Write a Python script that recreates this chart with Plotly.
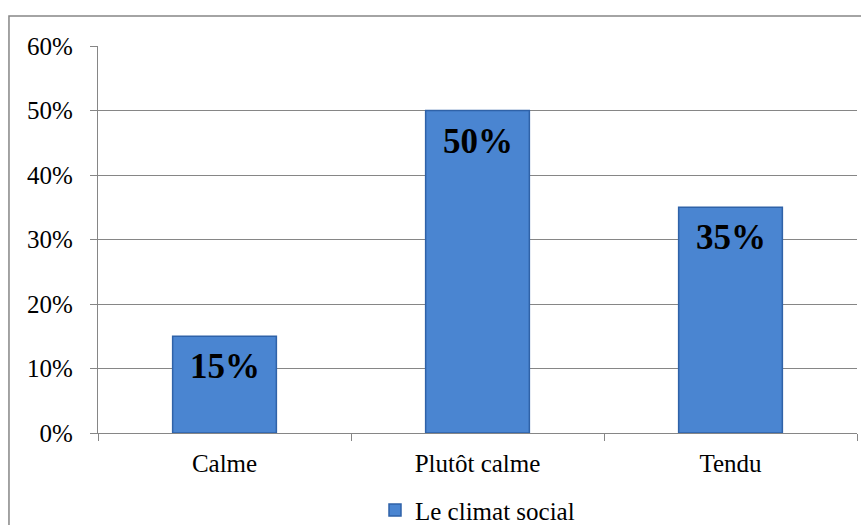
import plotly.graph_objects as go

categories = ["Calme", "Plutôt calme", "Tendu"]
values = [0.15, 0.50, 0.35]
series_name = "Le climat social"
tick_vals = [0, 0.1, 0.2, 0.3, 0.4, 0.5, 0.6]
tick_text = ["0%", "10%", "20%", "30%", "40%", "50%", "60%"]

serif = "Liberation Serif, Times New Roman, serif"

fig = go.Figure()
fig.add_trace(go.Bar(
    x=categories,
    y=values,
    name=series_name,
    width=0.41,
    marker=dict(color="#4a85d1", line=dict(color="#2f62a8", width=1.5)),
    showlegend=True,
))

# value labels sit just inside the top of each bar
for cat, v in zip(categories, values):
    fig.add_annotation(
        x=cat, y=v, xref="x", yref="y",
        text=f"{round(v * 100)}%",
        showarrow=False, yanchor="top", yshift=-9,
        font=dict(family=serif, size=35, color="black", weight="bold"),
    )

fig.update_layout(
    width=861,
    height=525,
    margin=dict(l=98, r=4, t=46, b=92, autoexpand=False),
    paper_bgcolor="white",
    plot_bgcolor="white",
    font=dict(family=serif, size=25, color="black"),
    showlegend=True,
    legend=dict(
        orientation="h",
        x=0.5, xanchor="center",
        yref="container", y=0.028, yanchor="middle",
        font=dict(family=serif, size=25),
        itemwidth=30,
    ),
    xaxis=dict(
        showline=True, linecolor="#868686", linewidth=1.3,
        ticks="outside", tickson="boundaries", ticklen=7, tickcolor="#868686",
        showgrid=False,
        tickfont=dict(family=serif, size=25),
        ticklabelstandoff=8,
    ),
    yaxis=dict(
        range=[0, 0.6],
        tickvals=tick_vals, ticktext=tick_text,
        showline=True, linecolor="#868686", linewidth=1.3,
        ticks="outside", ticklen=7, tickcolor="#868686",
        showgrid=True, gridcolor="#868686", gridwidth=1,
        zeroline=False,
        tickfont=dict(family=serif, size=25),
        ticklabelstandoff=12,
    ),
    shapes=[dict(
        type="rect", xref="paper", yref="paper",
        x0=-0.1173, x1=1.02, y0=-0.4, y1=1.0775,
        line=dict(color="#868686", width=1.5),
        fillcolor="rgba(0,0,0,0)", layer="below",
    )],
)

fig.write_html("out.html")
